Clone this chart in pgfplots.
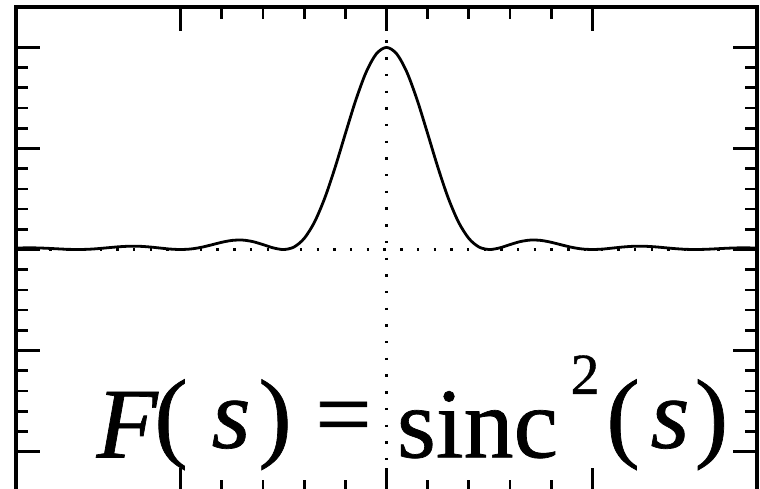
\documentclass[border=0pt]{standalone}
\usepackage{pgfplots}
\pgfplotsset{compat=1.18}
\usepackage{fontspec}
\setmainfont{Liberation Serif}
\newfontfamily\formulafont[FakeBold=0.7]{Liberation Serif}

\begin{document}
\begin{tikzpicture}
\begin{axis}[
  scale only axis,
  width=370.5pt, height=242.5pt,
  xmin=-3.6, xmax=3.6,
  ymin=-1.2, ymax=1.2,
  xtick={-2,0,2}, minor x tick num=4,
  ytick={-1,-0.5,0,0.5,1}, minor y tick num=4,
  xticklabel=\empty, yticklabel=\empty,
  tick align=inside,
  major tick length=12pt, minor tick length=6pt,
  every tick/.style={black, line width=1.35pt},
  axis line style={line width=1.6pt},
  clip=false,
  every node/.style={inner sep=0pt, anchor=base},
]
% F(s) = sinc^2(s), sampled every 0.1
\addplot[black, line width=1.4pt, smooth] coordinates {
(-3.6,0.0070715) (-3.5,0.0082711) (-3.4,0.0079279) (-3.3,0.0060896) (-3.2,0.0034185) (-3.1,0.0010068)
(-3.0,0) (-2.9,0.0011505) (-2.8,0.0044650) (-2.7,0.0090970) (-2.6,0.013557) (-2.5,0.016211)
(-2.4,0.015911) (-2.3,0.012536) (-2.2,0.0072326) (-2.1,0.0021940) (-2.0,0) (-1.9,0.0026802)
(-1.8,0.010804) (-1.7,0.022947) (-1.6,0.035800) (-1.5,0.045032) (-1.4,0.046758) (-1.3,0.039241)
(-1.2,0.024310) (-1.1,0.0079963) (-1.0,0) (-0.9,0.011945) (-0.8,0.05470) (-0.7,0.13534)
(-0.6,0.25457) (-0.5,0.40528) (-0.4,0.57279) (-0.3,0.73684) (-0.2,0.87514) (-0.1,0.96753)
(0,1)
(0.1,0.96753) (0.2,0.87514) (0.3,0.73684) (0.4,0.57279) (0.5,0.40528) (0.6,0.25457)
(0.7,0.13534) (0.8,0.05470) (0.9,0.011945) (1.0,0) (1.1,0.0079963) (1.2,0.024310)
(1.3,0.039241) (1.4,0.046758) (1.5,0.045032) (1.6,0.035800) (1.7,0.022947) (1.8,0.010804)
(1.9,0.0026802) (2.0,0) (2.1,0.0021940) (2.2,0.0072326) (2.3,0.012536) (2.4,0.015911)
(2.5,0.016211) (2.6,0.013557) (2.7,0.0090970) (2.8,0.0044650) (2.9,0.0011505) (3.0,0)
(3.1,0.0010068) (3.2,0.0034185) (3.3,0.0060896) (3.4,0.0079279) (3.5,0.0082711) (3.6,0.0070715)
};
% dotted coordinate axes
\draw[line width=1.5pt, dash pattern=on 1.2pt off 7.15pt] (axis cs:-3.6,0) -- (axis cs:3.6,0);
\draw[line width=1.5pt, dash pattern=on 1.2pt off 7.15pt] (axis cs:0,1.2) -- (axis cs:0,-1.2);
% formula, set glyph by glyph
\begin{scope}[font=\formulafont\fontsize{50}{60}\selectfont]
\node at (axis cs:-2.52,-0.867) {\itshape F};
\node at (axis cs:-2.094,-0.867) {(};
\node at (axis cs:-1.51,-0.867) {\itshape s};
\node at (axis cs:-1.083,-0.867) {)};
\node at (axis cs:-0.418,-0.867) {=};
\node at (axis cs:0.884,-0.867) {sinc};
\node at (axis cs:2.298,-0.867) {(};
\node at (axis cs:2.755,-0.867) {\itshape s};
\node at (axis cs:3.158,-0.867) {)};
\end{scope}
\node[font=\formulafont\fontsize{29}{34}\selectfont] at (axis cs:1.929,-0.619) {2};
\coordinate (sw) at (rel axis cs:0,0);
\coordinate (ne) at (rel axis cs:1,1);
\end{axis}
\pgfresetboundingbox
\path[use as bounding box] ([xshift=-8pt,yshift=2pt]sw) rectangle ([xshift=1.5pt,yshift=3.5pt]ne);
\end{tikzpicture}
\end{document}
